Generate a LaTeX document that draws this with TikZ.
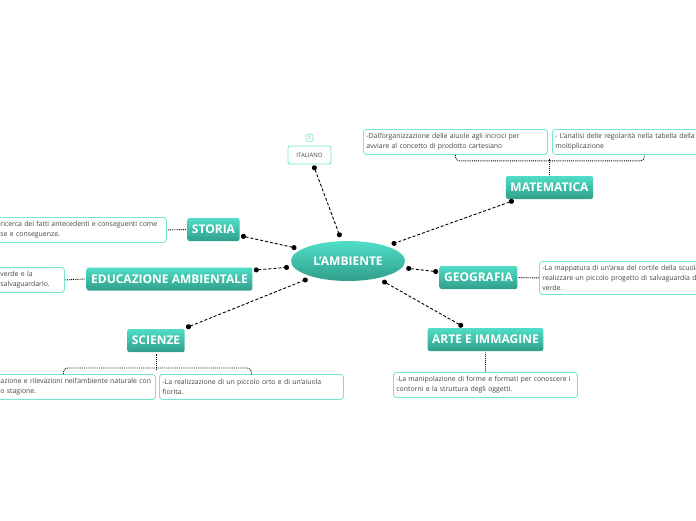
\documentclass[tikz,border=0pt]{standalone}
\usepackage{fontspec}
\setmainfont{Open Sans}
\definecolor{tealtop}{RGB}{80,222,200}
\definecolor{tealbottom}{RGB}{48,158,138}
\definecolor{tealline}{RGB}{120,228,210}
\definecolor{notegray}{RGB}{70,70,70}
\usetikzlibrary{shapes,arrows.meta,positioning,calc}

\tikzset{
  topic/.style={rectangle, rounded corners=2pt, top color=tealtop, bottom color=tealbottom,
    text=white, font=\fontsize{12}{14}\selectfont\bfseries, minimum height=23pt,
    inner xsep=4.5pt, inner ysep=0pt, outer sep=1.5pt},
  note/.style={rectangle, rounded corners=3pt, draw=tealline, line width=0.9pt, fill=white,
    text=notegray, font=\fontsize{6.9}{10}\selectfont, align=left, anchor=north west,
    inner xsep=3pt, minimum height=25pt, text width=178pt},
  spoke/.style={dash pattern=on 3pt off 2pt, line width=0.9pt,
    {Circle[length=5pt]}-{Circle[length=5pt]}},
  link/.style={densely dotted, line width=0.9pt},
  brace/.style={link, rounded corners=4pt}
}

\begin{document}
\begin{tikzpicture}[x=1pt, y=-1pt]
    \useasboundingbox (0,0) rectangle (696,520);
    \clip (0,0) rectangle (696,520);
    \fill[white] (0,0) rectangle (696,520);

    % Centre
    \node[ellipse, top color=tealtop, bottom color=tealbottom, text=white,
      font=\fontsize{12}{14}\selectfont\bfseries, minimum width=114pt,
      minimum height=40pt, inner sep=0pt, outer sep=4pt] (amb) at (348,261) {L'AMBIENTE};

    % Subjects
    \node[rectangle, rounded corners=2pt, draw=tealline, line width=0.9pt, text=notegray,
      font=\fontsize{6}{7}\selectfont, minimum width=43pt, minimum height=18pt,
      outer sep=1.5pt] (ital) at (309.5,155) {ITALIANO};
    \node[rectangle, rounded corners=1pt, draw=tealline, line width=0.6pt, text=gray,
      font=\fontsize{4.5}{5}\selectfont, inner sep=1pt, minimum size=7pt,
      above=3pt of ital] (italNum) {2};
    \node[topic] (mat) at (549.5,187.5) {MATEMATICA};
    \node[topic] (geo) at (478.5,277.5) {GEOGRAFIA};
    \node[topic] (arte) at (485.5,339.5) {ARTE E IMMAGINE};
    \node[topic] (sci) at (156,340.5) {SCIENZE};
    \node[topic] (edu) at (169.5,279) {EDUCAZIONE AMBIENTALE};
    \node[topic] (sto) at (213.5,229.5) {STORIA};

    % Notes
    \node[note] (matA) at (363,129) {-Dall'organizzazione delle aiuole agli incroci per\\
      avviare al concetto di prodotto cartesiano};
    \node[note] (matB) at (552,129) {- L'analisi delle regolarità nella tabella della\\
      moltiplicazione};
    \node[note, minimum height=33pt] (geoA) at (539,261) {-La mappatura di un'area del cortile della scuola\\
      realizzare un piccolo progetto di salvaguardia del\\ verde.};
    \node[note] (arteA) at (393,372) {-La manipolazione di forme e formati per conoscere i\\
      contorni e la struttura degli oggetti.};
    \node[note] (sciA) at (-29,374) {\hspace*{26pt}azione e rilevazioni nell'ambiente naturale con\\
      \hspace*{26pt}o stagione.};
    \node[note] (sciB) at (159,374) {-La realizzazione di un piccolo orto e di un'aiuola\\ fiorita.};
    \node[note, text width=61pt] (eduA) at (-3,267) {verde e la\\ salvaguardarlo.};
    \node[note, text width=163pt] (stoA) at (-3,217) {ricerca dei fatti antecedenti e conseguenti come\\
      se e conseguenze.};

    % Spokes
    \draw[spoke] (ital.-69) -- (amb.108);
    \draw[spoke] (mat.200) -- (amb.21);
    \draw[spoke] (geo.172) -- (amb.-7);
    \draw[spoke] (arte.150) -- (amb.-30);
    \draw[spoke] (sci.23) -- (amb.204);
    \draw[spoke] (edu.6) -- (amb.186);
    \draw[spoke] (sto.-13) -- (amb.166);

    % Links to notes
    \draw[link] (mat.north) -- ++(0,-16);
    \draw[brace] (matA.south) -- ++(0,6) -| (matB.south);
    \draw[link] (sci.south) -- ++(0,16);
    \draw[brace] (sciA.north) -- ++(0,-6) -| (sciB.north);
    \draw[link] (geo.east) -- (geoA.west);
    \draw[link] (arte.south) -- (arteA.north);
    \draw[link] (edu.west) -- (eduA.east);
    \draw[link] (sto.west) -- (stoA.east);
\end{tikzpicture}
\end{document}
